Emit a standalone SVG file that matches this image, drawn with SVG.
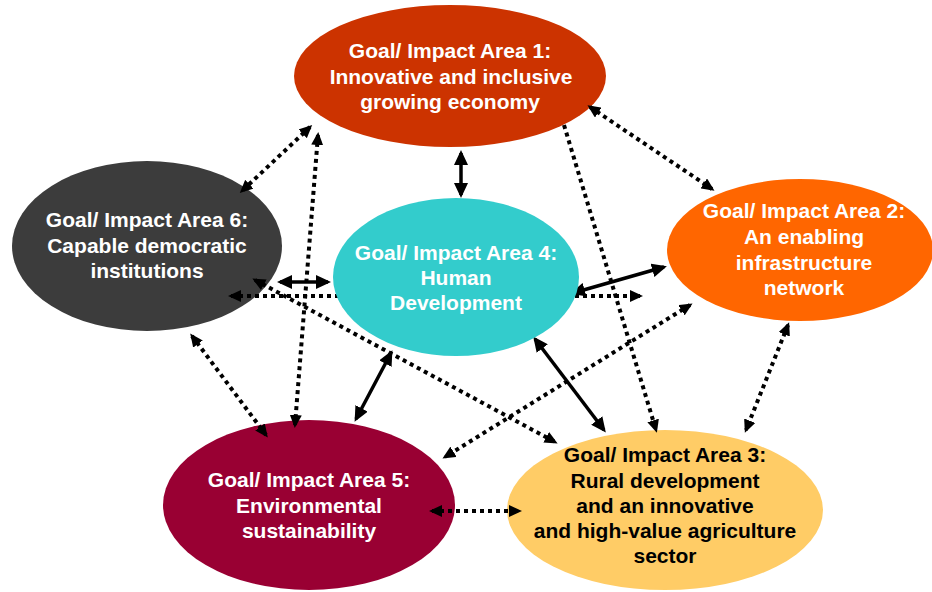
<svg xmlns="http://www.w3.org/2000/svg" width="932" height="592" viewBox="0 0 932 592">
<style>
  .t { font-family: "Liberation Sans", Arial, sans-serif; font-weight: bold; font-size: 21px; text-anchor: middle; }
  .w { fill: #FFFFFF; }
  .k { fill: #000000; }
  .solid { stroke: #000; stroke-width: 3.5; fill: none; marker-start: url(#ah); marker-end: url(#ah); }
  .dot { stroke: #000; stroke-width: 4; stroke-dasharray: 4 4; fill: none; marker-start: url(#ad); marker-end: url(#ad); }
  .dot1 { stroke: #000; stroke-width: 4; stroke-dasharray: 4 4; fill: none; marker-end: url(#ad); }
</style>
<defs>
  <marker id="ah" viewBox="0 0 15 14" refX="12" refY="7" markerWidth="15" markerHeight="14" markerUnits="userSpaceOnUse" orient="auto-start-reverse">
    <path d="M0,0 L15,7 L0,14 z" fill="#000"/>
  </marker>
  <marker id="ad" viewBox="0 0 13 12" refX="10" refY="6" markerWidth="13" markerHeight="12" markerUnits="userSpaceOnUse" orient="auto-start-reverse">
    <path d="M0,0 L13,6 L0,12 z" fill="#000"/>
  </marker>
</defs>
<rect width="932" height="592" fill="#FFFFFF"/>

<g id="node1">
  <ellipse cx="450" cy="76" rx="156" ry="71" fill="#CC3300"/>
  <text class="t w" x="450" y="58">Goal/ Impact Area 1:</text>
  <text class="t w" x="451" y="84">Innovative and inclusive</text>
  <text class="t w" x="450" y="109">growing economy</text>
</g>
<g id="node6">
  <ellipse cx="147" cy="246" rx="135" ry="85" fill="#3C3C3C"/>
  <text class="t w" x="147" y="227">Goal/ Impact Area 6:</text>
  <text class="t w" x="147" y="253">Capable democratic</text>
  <text class="t w" x="147" y="278">institutions</text>
</g>
<g id="node2">
  <ellipse cx="800" cy="250" rx="133" ry="71" fill="#FF6600"/>
  <text class="t w" x="804" y="218">Goal/ Impact Area 2:</text>
  <text class="t w" x="804" y="244">An enabling</text>
  <text class="t w" x="804" y="270">infrastructure</text>
  <text class="t w" x="804" y="295">network</text>
</g>
<g id="node5">
  <ellipse cx="309" cy="505" rx="146" ry="85" fill="#990033"/>
  <text class="t w" x="309" y="487">Goal/ Impact Area 5:</text>
  <text class="t w" x="309" y="513">Environmental</text>
  <text class="t w" x="309" y="538">sustainability</text>
</g>
<g id="node3">
  <ellipse cx="665" cy="510" rx="158" ry="80" fill="#FFCC66"/>
  <text class="t k" x="665" y="462">Goal/ Impact Area 3:</text>
  <text class="t k" x="665" y="488">Rural development</text>
  <text class="t k" x="665" y="513">and an innovative</text>
  <text class="t k" x="665" y="538">and high-value agriculture</text>
  <text class="t k" x="665" y="563">sector</text>
</g>

<g id="connectors">
  <line class="dot" x1="231" y1="296" x2="640" y2="296"/>
  <line class="solid" x1="461" y1="153" x2="461" y2="195"/>
  <line class="solid" x1="280" y1="282" x2="328" y2="282"/>
  <line class="solid" x1="573" y1="293" x2="664" y2="267"/>
  <line class="solid" x1="391" y1="353" x2="356" y2="419"/>
  <line class="solid" x1="535" y1="339" x2="604" y2="430"/>
  <line class="dot" x1="310" y1="127" x2="242" y2="191"/>
  <line class="dot" x1="318" y1="135" x2="295" y2="425"/>
  <line class="dot" x1="590" y1="107" x2="712" y2="189"/>
  <line class="dot1" x1="564" y1="125" x2="656" y2="430"/>
  <line class="dot" x1="255" y1="280" x2="555" y2="442"/>
  <line class="dot" x1="192" y1="336" x2="266" y2="435"/>
  <line class="dot" x1="690" y1="305" x2="445" y2="457"/>
  <line class="dot" x1="788" y1="325" x2="746" y2="430"/>
  <line class="dot" x1="432" y1="511" x2="519" y2="511"/>
</g>

<g id="node4">
  <ellipse cx="456" cy="277" rx="123" ry="79" fill="#33CCCC"/>
  <text class="t w" x="456" y="260">Goal/ Impact Area 4:</text>
  <text class="t w" x="456" y="285">Human</text>
  <text class="t w" x="456" y="310">Development</text>
</g>
</svg>
